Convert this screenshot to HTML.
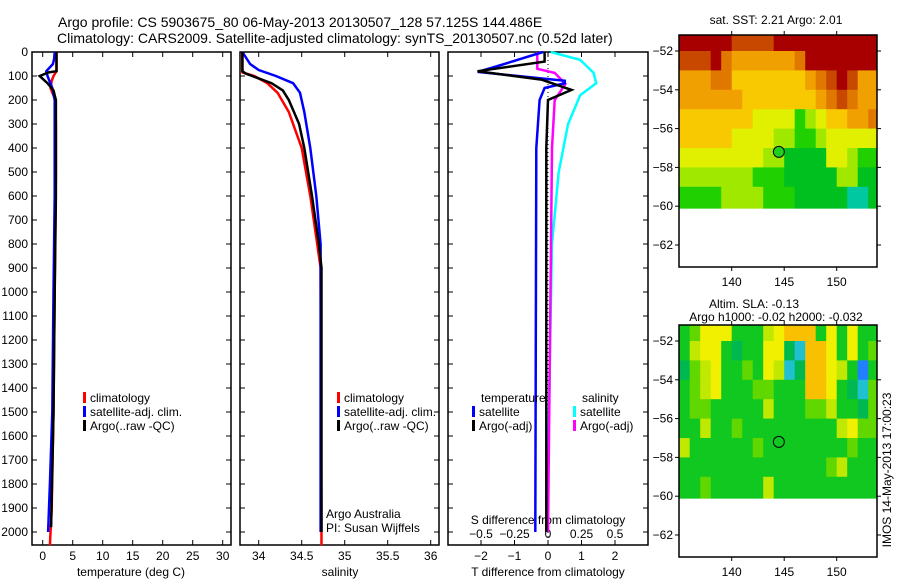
<!DOCTYPE html>
<html><head><meta charset="utf-8">
<style>
body{margin:0;background:#fff;}
svg{display:block;font-family:"Liberation Sans",sans-serif;}
text{fill:#000;}
</style></head>
<body>
<svg id="fig" width="900" height="580" viewBox="0 0 900 580">
<text x="58" y="27" font-size="14">Argo profile: CS 5903675_80 06-May-2013 20130507_128 57.125S 144.486E</text>
<text x="57" y="43" font-size="14">Climatology: CARS2009. Satellite-adjusted climatology: synTS_20130507.nc (0.52d later)</text>
<g id="p1"></g>
<g id="p2"></g>
<g id="p3"></g>
<g id="m1"></g>
<g id="m2"></g>
<text transform="translate(891,470) rotate(-90)" font-size="12" text-anchor="middle">IMOS 14-May-2013 17:00:23</text>
</svg>
<script>
// ---- data ----
const depthTicks=[0,100,200,300,400,500,600,700,800,900,1000,1100,1200,1300,1400,1500,1600,1700,1800,1900,2000];
const tempTicks=[0,5,10,15,20,25,30];
const salTicks=[34,34.5,35,35.5,36];
const tdiffTicks=[-2,-1,0,1,2];
const sdiffTicks=[-0.5,-0.25,0,0.25,0.5];
const tClimDepth=[0,80,100,120,150,200,300,500,1000,1500,1900,2055];
const tClim=[2.3,2.3,1.8,1.5,1.3,2.1,2.2,2.2,2.0,1.8,1.5,1.2];
const tSatDepth=[0,30,50,80,100,150,200,600,1000,1500,1800,2000];
const tSat=[2.0,1.9,1.7,0.6,0.8,1.6,2.0,2.0,1.8,1.6,1.2,0.9];
const tArgoDepth=[0,80,85,100,130,160,200,600,1000,1500,1980];
const tArgo=[2.3,2.3,1.0,-0.5,0.8,1.8,2.2,2.2,2.0,1.8,1.4];
const sClimDepth=[0,85,100,130,170,250,400,600,800,900,2055];
const sClim=[33.81,33.81,33.95,34.1,34.22,34.35,34.5,34.6,34.68,34.72,34.73];
const sSatDepth=[0,50,75,100,130,170,250,400,600,800,2000];
const sSat=[33.81,33.9,34.0,34.2,34.4,34.48,34.53,34.6,34.67,34.72,34.72];
const sArgoDepth=[0,80,90,110,130,160,200,300,400,600,800,900,2000];
const sArgo=[33.81,33.81,33.85,34.0,34.15,34.28,34.35,34.47,34.53,34.62,34.7,34.73,34.73];
const dTSatDepth=[0,54,83,120,130,150,200,400,2000];
const dTSat=[-0.15,-1.4,-2.1,0.5,0.5,-0.1,-0.25,-0.35,-0.38];
const dTArgoDepth=[0,40,80,115,158,200,400,2000];
const dTArgo=[-0.1,-0.1,-2.1,-0.2,0.7,0.0,-0.05,-0.05];
const dSArgoDepth=[0,70,87,133,200,400,2000];
const dSArgo=[-0.08,-0.08,0.05,0.13,0.05,0.03,0.0];
const dSSatDepth=[0,33,87,130,180,300,500,800,2000];
const dSSat=[0.02,0.24,0.34,0.36,0.24,0.15,0.08,0.03,-0.01];
const lonTicks=[140,145,150];
const latTicks=[-52,-54,-56,-58,-60,-62];
const sstGrid=["9999988889999999999","8889766666679999999","6667755555556789866","6666665555555678766","5555555444423455667","5555544443322344444","4444444433111144322","3333333222111113311","2222333322211111001"];
const slaGrid=["3466633356777363633","3566323366217763634","2456334365127765303","3456333443337763214","3443333353334453324","3353343333333335644","5333333433333333433","3333333333333345333","3343333353333333333"];
const argoLon=144.49, argoLat=-57.2;
// ---- helpers ----
const NS="http://www.w3.org/2000/svg";
function mk(p,tag,at){const e=document.createElementNS(NS,tag);for(const k in at)e.setAttribute(k,at[k]);p.appendChild(e);return e;}
const dy=d=>52+d*0.24;
function frame(g,x0,x1){
  const r=mk(g,'rect',{x:x0,y:52,width:x1-x0,height:493,fill:'none',stroke:'#000','stroke-width':1.5});
  
  
  depthTicks.forEach(d=>{mk(g,'line',{x1:x0,x2:x0+5,y1:dy(d),y2:dy(d),stroke:'#000'});mk(g,'line',{x1:x1-5,x2:x1,y1:dy(d),y2:dy(d),stroke:'#000'});});
}
function xticks(g,vals,sx,yTop,yBot,ly,lab,fs){
  vals.forEach(v=>{const x=sx(v);
    if(yTop!==null)mk(g,'line',{x1:x,x2:x,y1:yTop,y2:yTop+5,stroke:'#000'});
    mk(g,'line',{x1:x,x2:x,y1:yBot-5,y2:yBot,stroke:'#000'});
    const t=mk(g,'text',{x:x,y:ly,'font-size':fs||12,'text-anchor':'middle'});t.textContent=String(v).replace('-','\u2212');
    
    });
}
function line(g,xs,ds,sx,col,w,name){
  const pts=xs.map((v,i)=>sx(v).toFixed(1)+','+dy(ds[i]).toFixed(1)).join(' ');
  const p=mk(g,'polyline',{points:pts,fill:'none',stroke:col,'stroke-width':w||2.5});
  
  
}
function txt(g,x,y,s,fs,name,anchor){const t=mk(g,'text',{x:x,y:y,'font-size':fs||12,'text-anchor':anchor||'start'});t.textContent=s;
  
  return t;}
function legend(g,x,y,col,label){mk(g,'rect',{x:x,y:y-10,width:3,height:11,fill:col});txt(g,x+7,y,label,12,'legend-entry');}
// ---- panel 1 ----
const p1=document.getElementById('p1');
const sxT=v=>42.7+v*6;
frame(p1,32,231);
depthTicks.forEach(d=>{txt(p1,28,dy(d)+4,String(d),12,'y-tick-label','end');});
xticks(p1,tempTicks,sxT,52,545,560);
txt(p1,131,576,'temperature (deg C)',12,'x-axis-title','middle');
line(p1,tClim,tClimDepth,sxT,'#f00',2.5,'temp-climatology-line');
line(p1,tSat,tSatDepth,sxT,'#00f',2.5,'temp-satellite-line');
line(p1,tArgo,tArgoDepth,sxT,'#000',2.5,'temp-argo-line');
legend(p1,83,402,'#f00','climatology');legend(p1,83,416,'#00f','satellite-adj. clim.');legend(p1,83,430,'#000','Argo(..raw -QC)');
// ---- panel 2 ----
const p2=document.getElementById('p2');
const sxS=v=>258.7+(v-34)*86;
frame(p2,240,439);
xticks(p2,salTicks,sxS,52,545,560);
txt(p2,340,576,'salinity',12,'x-axis-title','middle');
line(p2,sClim,sClimDepth,sxS,'#f00',2.5,'sal-climatology-line');
line(p2,sSat,sSatDepth,sxS,'#00f',2.5,'sal-satellite-line');
line(p2,sArgo,sArgoDepth,sxS,'#000',2.5,'sal-argo-line');
legend(p2,337,402,'#f00','climatology');legend(p2,337,416,'#00f','satellite-adj. clim.');legend(p2,337,430,'#000','Argo(..raw -QC)');
txt(p2,326,518,'Argo Australia',12,'credit-text');txt(p2,326,532,'PI: Susan Wijffels',12,'pi-text');
// ---- panel 3 ----
const p3=document.getElementById('p3');
const sxD=v=>548+v*33.5, sxSD=v=>548+v*134;
frame(p3,448,648);
xticks(p3,tdiffTicks,sxD,52,545,560);
sdiffTicks.forEach(v=>{const x=sxSD(v);mk(p3,'line',{x1:x,x2:x,y1:540,y2:545,stroke:'#000'});txt(p3,x,538,String(v).replace('-','\u2212'),12,'s-tick-label','middle');});
txt(p3,548,524,'S difference from climatology',12,'s-axis-title','middle');
txt(p3,548,576,'T difference from climatology',12,'x-axis-title','middle');
mk(p3,'line',{x1:548,x2:548,y1:52,y2:545,stroke:'#000','stroke-dasharray':'1,3'});
line(p3,dSSat,dSSatDepth,sxSD,'#0ff',2.5,'sdiff-satellite-line');
line(p3,dSArgo,dSArgoDepth,sxSD,'#f0f',2.5,'sdiff-argo-line');
line(p3,dTSat,dTSatDepth,sxD,'#00f',2.5,'tdiff-satellite-line');
line(p3,dTArgo,dTArgoDepth,sxD,'#000',2.5,'tdiff-argo-line');
txt(p3,481,402,'temperature',12,'legend-title');txt(p3,582,402,'salinity',12,'legend-title');
legend(p3,472,416,'#00f','satellite');legend(p3,472,430,'#000','Argo(-adj)');
legend(p3,573,416,'#0ff','satellite');legend(p3,573,430,'#f0f','Argo(-adj)');
// ---- maps ----
const sstCols=['#00c8a0','#00c020','#20d000','#a0e800','#e0f000','#f8c800','#f0a000','#e07800','#c84800','#a80000'];
const slaCols=['#2080ff','#20c0d0','#00b850','#10c820','#60d800','#c0e800','#f0f000','#f8c000'];
function map(id,top,grid,cols,t1,t2,fill){
  const g=document.getElementById(id);
  const lx=v=>731.7+(v-140)*10.5, ly=v=>top+16+(-52-v)*19.4;
  const x0=679,x1=877,yb=top+232;
  grid.forEach((row,r)=>{for(let c=0;c<row.length;c++){
    const lon=135+c, lat=-51-r;
    const xa=Math.max(x0,lx(lon)), xb=Math.min(x1,lx(lon+1));
    const ya=Math.max(top,ly(lat)), yb2=ly(r===grid.length-1?-60.1:lat-1);
    const cell=mk(g,'rect',{x:xa,y:ya,width:xb-xa+0.5,height:yb2-ya+0.5,fill:cols[+row[c]]});
    
    
  }});
  const f=mk(g,'rect',{x:x0,y:top,width:x1-x0,height:yb-top,fill:'none',stroke:'#000','stroke-width':1.5});
  
  
  latTicks.forEach(v=>{const y=ly(v);mk(g,'line',{x1:x0-4,x2:x0,y1:y,y2:y,stroke:'#000'});mk(g,'line',{x1:x1,x2:x1+4,y1:y,y2:y,stroke:'#000'});txt(g,x0-6,y+4,String(v).replace('-','\u2212'),12,'lat-tick-label','end');});
  lonTicks.forEach(v=>{const x=lx(v);mk(g,'line',{x1:x,x2:x,y1:top-4,y2:top,stroke:'#000'});mk(g,'line',{x1:x,x2:x,y1:yb,y2:yb+4,stroke:'#000'});txt(g,x,yb+19,String(v),12,'lon-tick-label','middle');});
  const c=mk(g,'circle',{cx:lx(argoLon),cy:ly(argoLat),r:5.5,fill:fill,stroke:'#000','stroke-width':1});
  
  
  if(t2){txt(g,754,top-17,t1,12,'map-title','middle');txt(g,776,top-4,t2,12,'map-subtitle','middle');}
  else txt(g,776,top-11,t1,12,'map-title','middle');
}
map('m1',35,sstGrid,sstCols,'sat. SST: 2.21 Argo: 2.01',null,'#20d020');
map('m2',325,slaGrid,slaCols,'Altim. SLA: -0.13','Argo h1000: -0.02 h2000: -0.032','none');
</script>
</body></html>
